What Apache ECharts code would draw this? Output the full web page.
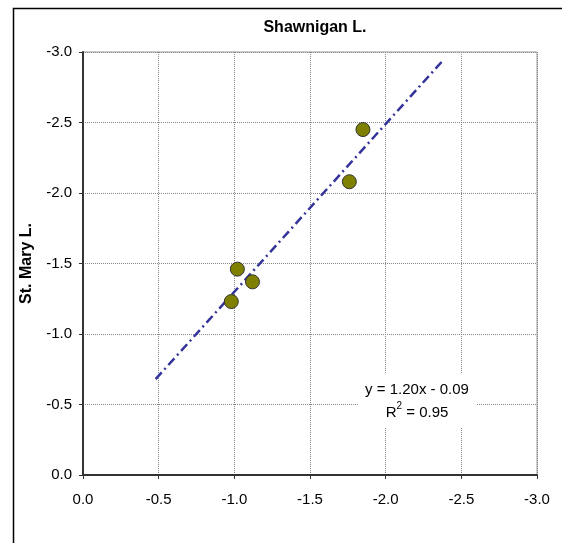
<!DOCTYPE html>
<html>
<head>
<meta charset="utf-8">
<script src="https://cdn.jsdelivr.net/npm/echarts@6/dist/echarts.min.js"></script>
<style>
  html, body { margin: 0; padding: 0; background: #fff; }
  #chart { width: 562px; height: 543px; }
</style>
</head>
<body>
<div id="chart"></div>
<script>
// Shawnigan L. (x) vs St. Mary L. (y)
const shawnigan = [-0.98, -1.02, -1.12, -1.76, -1.85];
const stMary = [-1.23, -1.46, -1.37, -2.08, -2.45];

// trend line ends
const trendX = [-0.48, -2.37];
const trendY = [-0.68, -2.93];

const axisTicks = [0, -0.5, -1, -1.5, -2, -2.5, -3];
const equationText = 'y = 1.20x - 0.09';
const r2Value = '0.95';

const points = shawnigan.map((x, i) => [x, stMary[i]]);
const trend = trendX.map((x, i) => [x, trendY[i]]);

const fontFamily = 'Liberation Sans, Arial, sans-serif';

const myChart = echarts.init(document.getElementById('chart'));
myChart.setOption({
  animation: false,
  backgroundColor: '#fff',
  title: {
    text: 'Shawnigan L.',
    left: 310,
    top: 15,
    textAlign: 'center',
    textStyle: { fontSize: 16, fontWeight: 'bold', color: '#000', fontFamily }
  },
  grid: {
    left: 83,
    top: 52,
    right: 25,
    bottom: 68,
    show: true,
    borderColor: '#999',
    borderWidth: 1
  },
  xAxis: {
    type: 'value',
    min: axisTicks[axisTicks.length - 1],
    max: axisTicks[0],
    interval: 0.5,
    inverse: true,
    axisLine: { onZero: false, lineStyle: { color: '#333', width: 2 } },
    axisTick: { show: true, length: 4, lineStyle: { color: '#333', width: 1 } },
    axisLabel: {
      margin: 17,
      fontSize: 15,
      color: '#000',
      fontFamily,
      formatter: v => v.toFixed(1)
    },
    splitLine: { show: true, lineStyle: { type: 'dotted', color: '#888', width: 1 } }
  },
  yAxis: {
    type: 'value',
    name: 'St. Mary L.',
    nameLocation: 'middle',
    nameGap: 48,
    nameTextStyle: { fontSize: 16, fontWeight: 'bold', color: '#000', fontFamily },
    min: axisTicks[axisTicks.length - 1],
    max: axisTicks[0],
    interval: 0.5,
    inverse: true,
    axisLine: { onZero: false, lineStyle: { color: '#333', width: 2 } },
    axisTick: { show: true, length: 4, lineStyle: { color: '#333', width: 1 } },
    axisLabel: {
      margin: 11,
      fontSize: 15,
      color: '#000',
      fontFamily,
      formatter: v => v.toFixed(1)
    },
    splitLine: { show: true, lineStyle: { type: 'dotted', color: '#888', width: 1 } }
  },
  graphic: [
    {
      type: 'rect',
      left: 11,
      top: 6,
      shape: { width: 560, height: 560 },
      style: { fill: 'none', stroke: '#000', lineWidth: 1.5 },
      silent: true,
      z: 100
    },
    {
      type: 'rect',
      left: 358,
      top: 374,
      shape: { width: 118, height: 53 },
      style: { fill: '#fff' },
      silent: true,
      z: 50
    },
    {
      type: 'text',
      x: 417,
      y: 378,
      style: {
        text: equationText + '\n{base|R}{sup|2}{base| = ' + r2Value + '}',
        fill: '#000',
        font: '15px ' + fontFamily,
        align: 'center',
        verticalAlign: 'top',
        lineHeight: 23,
        rich: {
          base: { fontSize: 15, fontFamily, fill: '#000', lineHeight: 23 },
          sup: { fontSize: 10, fontFamily, fill: '#000', verticalAlign: 'top', lineHeight: 16 }
        }
      },
      silent: true,
      z: 51
    }
  ],
  series: [
    {
      name: 'trend',
      type: 'line',
      data: trend,
      symbol: 'none',
      z: 3,
      lineStyle: { color: '#33339a', width: 2.5, type: [9, 4, 2, 4] }
    },
    {
      name: 'lakes',
      type: 'scatter',
      data: points,
      symbolSize: 14,
      z: 4,
      itemStyle: { color: '#808000', borderColor: '#333', borderWidth: 1, opacity: 1 }
    }
  ]
});
</script>
</body>
</html>
